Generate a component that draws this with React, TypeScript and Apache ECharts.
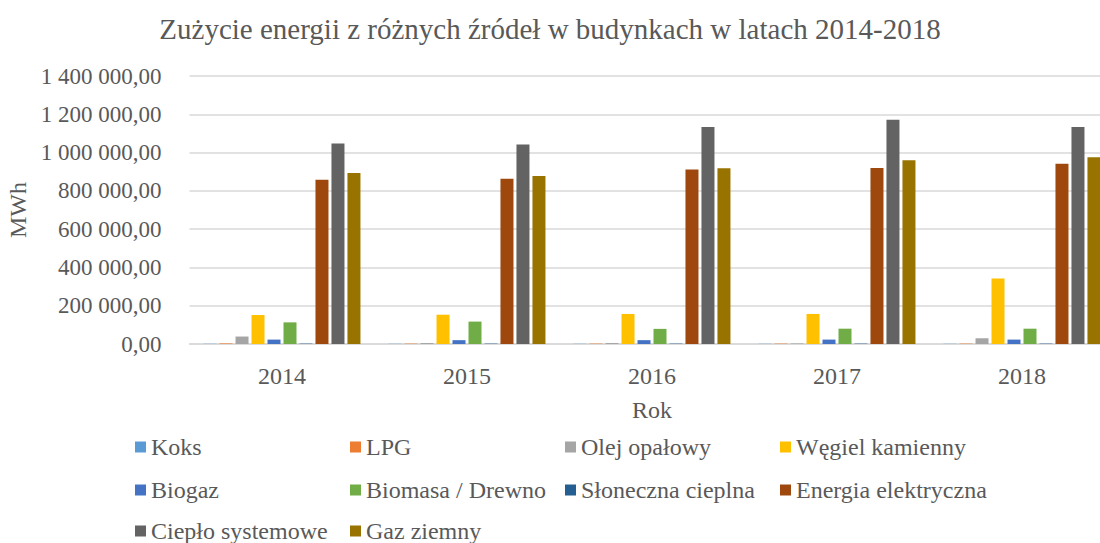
import React, { useEffect, useRef } from "react";
import * as echarts from "echarts";

const years = ["2014", "2015", "2016", "2017", "2018"];
const seriesNames = [
  "Koks",
  "LPG",
  "Olej opałowy",
  "Węgiel kamienny",
  "Biogaz",
  "Biomasa / Drewno",
  "Słoneczna cieplna",
  "Energia elektryczna",
  "Ciepło systemowe",
  "Gaz ziemny",
];
const colors = [
  "#5B9BD5",
  "#ED7D31",
  "#A5A5A5",
  "#FFC000",
  "#4472C4",
  "#70AD47",
  "#255E91",
  "#9E480E",
  "#636363",
  "#997300",
];
const koks = [1000, 1000, 1000, 1000, 1000];
const lpg = [3000, 2000, 2000, 2000, 2000];
const olej = [39000, 5000, 5000, 3000, 30000];
const wegiel = [152000, 153000, 157000, 157000, 342000];
const biogaz = [23000, 20000, 20000, 23000, 23000];
const biomasa = [113000, 117000, 79000, 80000, 80000];
const sloneczna = [2000, 2000, 2000, 2000, 2000];
const energia = [858000, 863000, 912000, 919000, 942000];
const cieplo = [1047000, 1042000, 1134000, 1171000, 1134000];
const gaz = [893000, 877000, 918000, 960000, 975000];
const seriesValues = [koks, lpg, olej, wegiel, biogaz, biomasa, sloneczna, energia, cieplo, gaz];

const yTicks = { min: 0, max: 1400000, interval: 200000 };

const legendCols = [135, 350, 565, 780];
const legendRows = [435, 478, 519];

function fmt(v: number): string {
  const s = Math.round(v).toString().replace(/\B(?=(\d{3})+(?!\d))/g, " ");
  return s + ",00";
}

export default function App() {
  const ref = useRef<HTMLDivElement>(null);
  useEffect(() => {
    document.body.style.margin = "0";
    if (!ref.current) return;
    const chart = echarts.init(ref.current, undefined, { renderer: "svg" });
    const font = "'Liberation Serif', 'Times New Roman', serif";
    const textColor = "#595959";
    const legends = seriesNames.map((name, i) => ({
      data: [name],
      left: legendCols[i % 4],
      top: legendRows[Math.floor(i / 4)],
      itemWidth: 11,
      itemHeight: 11,
      itemGap: 0,
      padding: 0,
      icon: "rect",
      textStyle: { fontFamily: font, fontSize: 24, color: textColor },
      selectedMode: false,
    }));
    chart.setOption({
      animation: false,
      textStyle: { fontFamily: font },
      title: {
        text: "Zużycie energii z różnych źródeł w budynkach w latach 2014-2018",
        left: "center",
        top: 9,
        textStyle: { fontFamily: font, fontSize: 29, fontWeight: "normal", color: textColor },
      },
      legend: legends,
      grid: {
        left: 189.5,
        top: 76,
        width: 925,
        height: 268,
        containLabel: false,
        outerBoundsMode: "none",
      },
      xAxis: {
        type: "category",
        data: years,
        name: "Rok",
        nameLocation: "middle",
        nameGap: 54,
        nameTextStyle: { fontFamily: font, fontSize: 24, color: textColor },
        axisLine: { lineStyle: { color: "#d9d9d9", width: 1.5 } },
        axisTick: { show: false },
        axisLabel: { fontFamily: font, fontSize: 24, color: textColor, margin: 20 },
      },
      yAxis: {
        type: "value",
        min: yTicks.min,
        max: yTicks.max,
        interval: yTicks.interval,
        name: "MWh",
        nameLocation: "middle",
        nameGap: 160,
        nameRotate: 90,
        nameTextStyle: { fontFamily: font, fontSize: 24, color: textColor },
        axisLine: { show: false },
        axisTick: { show: false },
        splitLine: { lineStyle: { color: "#d9d9d9", width: 1.5 } },
        axisLabel: {
          fontFamily: font,
          fontSize: 23,
          color: textColor,
          margin: 28,
          formatter: (v: number) => fmt(v),
        },
      },
      series: seriesNames.map((name, i) => ({
        name,
        type: "bar",
        data: seriesValues[i],
        barWidth: 13,
        barGap: "23%",
        itemStyle: { color: colors[i] },
      })),
    });
    return () => chart.dispose();
  }, []);
  return <div ref={ref} style={{ width: 1100, height: 543 }} />;
}
